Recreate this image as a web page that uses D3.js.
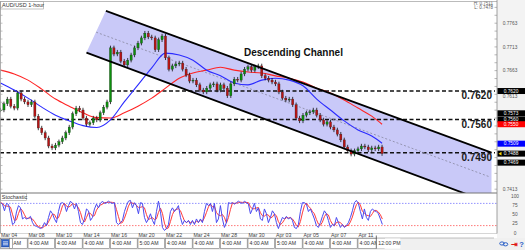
<!DOCTYPE html>
<html>
<head>
<meta charset="utf-8">
<script src="https://cdn.jsdelivr.net/npm/d3@7"></script>
<style>
  body { margin: 0; background: #fff; }
  svg { display: block; font-family: "Liberation Sans", Arial, sans-serif; }
</style>
</head>
<body>
<svg id="chart" width="525" height="250"></svg>
<script>
// 6-hour closes, AUD/USD, from Mar 04
const candleHours = 6
const closes = [
  0.7580, 0.7593, 0.7603, 0.7588, 0.7584, 0.7616, 0.7603, 0.7597, 0.7591, 0.7597,
  0.7567, 0.7542, 0.7532, 0.7521, 0.7504, 0.7500, 0.7506, 0.7513, 0.7521, 0.7532,
  0.7544, 0.7572, 0.7584, 0.7580, 0.7563, 0.7550, 0.7553, 0.7563, 0.7559, 0.7574,
  0.7586, 0.7597, 0.7711, 0.7698, 0.7702, 0.7683, 0.7675, 0.7685, 0.7696, 0.7711,
  0.7721, 0.7732, 0.7742, 0.7734, 0.7732, 0.7707, 0.7728, 0.7736, 0.7690, 0.7666,
  0.7673, 0.7677, 0.7679, 0.7666, 0.7654, 0.7641, 0.7643, 0.7633, 0.7622, 0.7618,
  0.7626, 0.7633, 0.7635, 0.7622, 0.7633, 0.7626, 0.7610, 0.7635, 0.7645, 0.7643,
  0.7656, 0.7666, 0.7671, 0.7664, 0.7671, 0.7673, 0.7652, 0.7647, 0.7643, 0.7639,
  0.7635, 0.7618, 0.7605, 0.7601, 0.7603, 0.7591, 0.7563, 0.7557, 0.7569, 0.7574,
  0.7576, 0.7580, 0.7569, 0.7559, 0.7550, 0.7555, 0.7544, 0.7538, 0.7529, 0.7517,
  0.7502, 0.7494, 0.7487, 0.7494, 0.7498, 0.7504, 0.7502, 0.7496, 0.7500, 0.7498,
  0.7502, 0.7488
]

// moving averages, one value per 24 hours (last one at the final bar)
const maHours = d3.range(0, 28).map(k => k * 24).concat([666])
const blueMA = [
  0.7637, 0.7622, 0.7605, 0.7586, 0.7569, 0.7557, 0.7547, 0.7543, 0.7559, 0.7597,
  0.7633, 0.7669, 0.7700, 0.7696, 0.7685, 0.7664, 0.7652, 0.7637, 0.7633, 0.7643,
  0.7647, 0.7643, 0.7631, 0.7603, 0.7580, 0.7557, 0.7538, 0.7525, 0.7510
]
const redMA = [
  0.7664, 0.7656, 0.7643, 0.7624, 0.7603, 0.7588, 0.7574, 0.7564, 0.7563, 0.7574,
  0.7588, 0.7605, 0.7626, 0.7647, 0.7658, 0.7664, 0.7670, 0.7664, 0.7660, 0.7658,
  0.7652, 0.7647, 0.7639, 0.7626, 0.7616, 0.7601, 0.7584, 0.7567, 0.7550
]

// stochastic %K
const stochStep = 3.49
const stochK = [
  82, 78, 60, 80, 77, 52, 23, 27, 57, 74,
  68, 38, 42, 38, 40, 45, 28, 20, 18, 15,
  12, 15, 28, 20, 42, 60, 52, 38, 28, 58,
  80, 82, 78, 58, 74, 86, 80, 65, 80, 58,
  28, 23, 38, 65, 60, 34, 42, 65, 78, 68,
  80, 86, 80, 82, 86, 82, 80, 82, 28, 23,
  28, 34, 58, 74, 86, 88, 68, 82, 74, 52,
  82, 80, 42, 28, 38, 52, 34, 23, 58, 86,
  58, 15, 7, 12, 23, 58, 68, 58, 65, 74,
  42, 23, 34, 28, 34, 23, 34, 23, 38, 28,
  38, 28, 58, 80, 74, 80, 58, 80, 28, 38,
  74, 38, 15, 28, 82, 80, 82, 78, 82, 86,
  82, 80, 86, 82, 78, 52, 65, 80, 58, 68,
  38, 34, 65, 52, 28, 42, 60, 52, 28, 12,
  28, 42, 38, 45, 38, 42, 34, 15, 12, 23,
  58, 82, 82, 78, 58, 65, 52, 38, 20, 15,
  28, 45, 60, 52, 34, 15, 23, 20, 42, 28,
  15, 23, 15, 20, 28, 42, 60, 82, 88, 80,
  58, 38, 65, 42, 34, 58, 65, 60, 58, 52,
  38, 23
]
const stochLevels = [80, 20]
const stochTicks = [100, 75, 50, 25, 0]

// channel lines as [hour, price]
const upperLine = [[184, 0.7789], [857, 0.7490]]
const lowerLine = [[150, 0.7701], [857, 0.7383]]
const midLine = [[167, 0.7744], [854, 0.7439]]

const levels = [0.7620, 0.7560, 0.7490]
// axis labels that are not hidden behind a price tag
const axisPrices = [0.7763, 0.7713, 0.7663, 0.7613, 0.7413]
const tags = [
  { v: 0.7620, fill: '#000' },
  { v: 0.7573, fill: '#000' },
  { v: 0.7560, fill: '#000' },
  { v: 0.7550, fill: '#f00' },
  { v: 0.7509, fill: '#00f' },
  { v: 0.7488, fill: '#000', arrow: true },
  { v: 0.7469, fill: '#000' }
]

const dateLabels = ['Mar 04', 'Mar 08', 'Mar 10', 'Mar 14', 'Mar 16', 'Mar 20', 'Mar 22',
                    'Mar 24', 'Mar 28', 'Mar 30', 'Apr 03', 'Apr 05', 'Apr 07', 'Apr 11']
const timeLabels = ['4:00 AM', '4:00 AM', '4:00 AM', '4:00 AM', '4:00 AM', '5:00 AM', '4:00 AM',
                    '4:00 AM', '4:00 AM', '4:00 AM', '5:00 AM', '4:00 AM', '4:00 AM', '4:00 AM']
const tickHours = 48
const lastTime = { h: 656, label: '12:00 PM' }

const W = 525
const plotR = 497, mainT = 1.5, mainB = 193, stochB = 233.5, barT = 238.5, barB = 248.5

const x = d3.scaleLinear().domain([0, 867]).range([0.5, 497.2])
const y = d3.scaleLinear().domain([0.7413, 0.7763]).range([189.2, 23.2])
const ys = d3.scaleLinear().domain([0, 100]).range([233, 196])

const svg = d3.select('#chart')

svg.append('rect').attr('x', plotR).attr('y', 0).attr('width', W - plotR).attr('height', barT)
  .attr('fill', '#f3f3f3')

const defs = svg.append('defs')
defs.append('clipPath').attr('id', 'clip-main').append('rect')
  .attr('x', 0).attr('y', mainT).attr('width', plotR).attr('height', mainB - mainT)
defs.append('clipPath').attr('id', 'clip-stoch').append('rect')
  .attr('x', 0).attr('y', mainB).attr('width', plotR).attr('height', stochB - mainB)

const main = svg.append('g').attr('clip-path', 'url(#clip-main)')

// channel fill
const poly = [upperLine[0], upperLine[1], lowerLine[1], lowerLine[0]]
main.append('polygon')
  .attr('points', poly.map(p => x(p[0]) + ',' + y(p[1])).join(' '))
  .attr('fill', '#c9c9f8')

// horizontal levels
main.selectAll('line.level').data(levels).join('line').classed('level', true)
  .attr('x1', 0).attr('x2', plotR - 2)
  .attr('y1', d => y(d)).attr('y2', d => y(d))
  .attr('stroke', '#111').attr('stroke-width', 1.4).attr('stroke-dasharray', '4,2.5')

// middle dashed line
main.append('line')
  .attr('x1', x(midLine[0][0])).attr('y1', y(midLine[0][1]))
  .attr('x2', x(midLine[1][0])).attr('y2', y(midLine[1][1]))
  .attr('stroke', '#8888a0').attr('stroke-width', 0.8).attr('stroke-dasharray', '2,2')

// moving averages
const maLine = d3.line().x(d => x(d[0])).y(d => y(d[1])).curve(d3.curveMonotoneX)
main.append('path').datum(maHours.map((h, i) => [h, redMA[i]]))
  .attr('d', maLine).attr('fill', 'none').attr('stroke', '#ff2424').attr('stroke-width', 1.1)
main.append('path').datum(maHours.map((h, i) => [h, blueMA[i]]))
  .attr('d', maLine).attr('fill', 'none').attr('stroke', '#2b2bff').attr('stroke-width', 1.1)

// candles
const candles = closes.map((c, i) => ({ h: i * candleHours, o: i ? closes[i - 1] : c, c: c }))
main.selectAll('line.wick').data(candles).join('line').classed('wick', true)
  .attr('x1', d => x(d.h)).attr('x2', d => x(d.h))
  .attr('y1', d => y(Math.max(d.o, d.c)) - 2.2)
  .attr('y2', d => y(Math.min(d.o, d.c)) + 2.2)
  .attr('stroke', '#111').attr('stroke-width', 0.8)
main.selectAll('rect.body').data(candles).join('rect').classed('body', true)
  .attr('x', d => x(d.h) - 1.1).attr('width', 2.2)
  .attr('y', d => y(Math.max(d.o, d.c)))
  .attr('height', d => Math.max(0.9, Math.abs(y(d.o) - y(d.c))))
  .attr('fill', d => d.c >= d.o ? '#0c8f0c' : '#b81414')
  .attr('stroke', '#222').attr('stroke-width', 0.3)

// channel borders
;[upperLine, lowerLine].forEach(l => {
  main.append('line')
    .attr('x1', x(l[0][0])).attr('y1', y(l[0][1]))
    .attr('x2', x(l[1][0])).attr('y2', y(l[1][1]))
    .attr('stroke', '#000').attr('stroke-width', 1.8)
})

// level labels
main.selectAll('text.lvl').data(levels).join('text').classed('lvl', true)
  .attr('x', 492).attr('y', d => y(d) + 8.3)
  .attr('text-anchor', 'end').attr('font-size', 10).attr('font-weight', 'bold')
  .attr('fill', '#1a1a1a').text(d => d.toFixed(4))

main.append('text').attr('x', 244).attr('y', 55.5)
  .attr('font-size', 10).attr('font-weight', 'bold').attr('fill', '#111')
  .text('Descending Channel')

// H / L readout
svg.append('text').attr('x', 493).attr('y', 5).attr('text-anchor', 'end')
  .attr('font-size', 4.5).attr('fill', '#555').text('H: 0.7511')
svg.append('text').attr('x', 493).attr('y', 9.3).attr('text-anchor', 'end')
  .attr('font-size', 4.5).attr('fill', '#555').text('L: 0.7478')

// title box
svg.append('rect').attr('x', 0.5).attr('y', 1.5).attr('width', 43).attr('height', 7.5)
  .attr('fill', '#fff').attr('stroke', '#999').attr('stroke-width', 0.6)
svg.append('text').attr('x', 2).attr('y', 7.3).attr('font-size', 5.5).attr('fill', '#333')
  .text('AUD/USD 1-hour')

// stochastic panel
const stoch = svg.append('g').attr('clip-path', 'url(#clip-stoch)')
stoch.selectAll('line.slevel').data(stochLevels).join('line').classed('slevel', true)
  .attr('x1', 0).attr('x2', plotR)
  .attr('y1', d => ys(d)).attr('y2', d => ys(d))
  .attr('stroke', d => d > 50 ? '#7777ff' : '#ff5555')
  .attr('stroke-width', 0.8).attr('stroke-dasharray', '1.5,1.5')

const stochD = stochK.map((v, i) => d3.mean(stochK.slice(Math.max(0, i - 2), i + 1)))
const sLine = d3.line().x((d, i) => x(i * stochStep)).y(d => ys(d))
stoch.append('path').datum(stochD).attr('d', sLine)
  .attr('fill', 'none').attr('stroke', '#ff3a3a').attr('stroke-width', 1)
stoch.append('path').datum(stochK).attr('d', sLine)
  .attr('fill', 'none').attr('stroke', '#4a4af0').attr('stroke-width', 1)

svg.append('rect').attr('x', 0.5).attr('y', mainB + 0.5).attr('width', 26).attr('height', 7)
  .attr('fill', '#fff').attr('stroke', '#999').attr('stroke-width', 0.6)
svg.append('text').attr('x', 1.8).attr('y', mainB + 6).attr('font-size', 5.5).attr('fill', '#333')
  .text('Stochastic')

// frame
svg.append('line').attr('x1', 0).attr('x2', plotR).attr('y1', mainT).attr('y2', mainT)
  .attr('stroke', '#aaa').attr('stroke-width', 0.8)
svg.append('line').attr('x1', 0).attr('x2', plotR).attr('y1', mainB).attr('y2', mainB)
  .attr('stroke', '#777').attr('stroke-width', 1.2)
svg.append('line').attr('x1', 0).attr('x2', plotR).attr('y1', stochB).attr('y2', stochB)
  .attr('stroke', '#bbb').attr('stroke-width', 0.6)
svg.append('line').attr('x1', 0.5).attr('x2', 0.5).attr('y1', mainT).attr('y2', stochB)
  .attr('stroke', '#999').attr('stroke-width', 0.8)
svg.append('line').attr('x1', plotR).attr('x2', plotR).attr('y1', 0).attr('y2', stochB)
  .attr('stroke', '#888').attr('stroke-width', 0.8)

// price ticks on both edges
const priceTicks = d3.range(0, 24).map(i => 0.7413 + i * 0.0050 / 3).filter(p => y(p) > mainT + 2)
svg.selectAll('line.ptick').data(priceTicks).join('line').classed('ptick', true)
  .attr('x1', plotR - 2.5).attr('x2', plotR).attr('y1', d => y(d)).attr('y2', d => y(d))
  .attr('stroke', '#888').attr('stroke-width', 0.6)
svg.selectAll('line.ltick').data(priceTicks).join('line').classed('ltick', true)
  .attr('x1', 0.5).attr('x2', 2.5).attr('y1', d => y(d)).attr('y2', d => y(d))
  .attr('stroke', '#999').attr('stroke-width', 0.6)

// price axis labels and tags (0.7613 peeks out from under the 0.7620 tag)
svg.selectAll('text.plab').data(axisPrices).join('text').classed('plab', true)
  .attr('x', 510).attr('y', d => y(d) + (d === 0.7613 ? 3.4 : 1.6)).attr('text-anchor', 'middle')
  .attr('font-size', 4.8).attr('fill', '#555').text(d => d.toFixed(4))

const tagG = svg.selectAll('g.tag').data(tags).join('g').classed('tag', true)
  .attr('transform', d => 'translate(0,' + y(d.v) + ')')
tagG.append('rect').attr('x', plotR + 0.5).attr('y', -3).attr('width', W - plotR).attr('height', 6)
  .attr('fill', d => d.fill)
tagG.append('text').attr('x', 511).attr('y', 1.7).attr('text-anchor', 'middle')
  .attr('font-size', 4.8).attr('fill', '#fff').text(d => d.v.toFixed(4))
tagG.filter(d => d.arrow).append('path').attr('d', 'M498.5,0 L501.5,-1.8 L501.5,1.8 Z')
  .attr('fill', '#ffd800')

svg.selectAll('text.slab').data(stochTicks).join('text').classed('slab', true)
  .attr('x', 515).attr('y', d => ys(d) + 1.7).attr('text-anchor', 'middle')
  .attr('font-size', 4.8).attr('fill', '#555').text(d => d)

// date axis
const dateHours = dateLabels.map((d, k) => k * tickHours)
svg.selectAll('text.date').data(dateLabels).join('text').classed('date', true)
  .attr('x', (d, k) => x(dateHours[k]) + 0.5).attr('y', 237.4)
  .attr('font-size', 5.2).attr('fill', '#444').text(d => d)

// bottom time bar
svg.append('rect').attr('x', 0).attr('y', barT - 0.5).attr('width', W).attr('height', 250 - barT + 0.5)
  .attr('fill', '#f0f0f0')
svg.append('line').attr('x1', 0).attr('x2', plotR - 3).attr('y1', barT - 0.5).attr('y2', barT - 0.5)
  .attr('stroke', '#999').attr('stroke-width', 0.6)
const boxes = svg.selectAll('g.tbox').data(timeLabels).join('g').classed('tbox', true)
  .attr('transform', (d, k) => 'translate(' + x(dateHours[k]) + ',0)')
boxes.append('rect').attr('x', 0).attr('y', barT).attr('width', (d, k) => x(tickHours) - x(0) - 0.8)
  .attr('height', barB - barT).attr('fill', '#fff').attr('stroke', '#777').attr('stroke-width', 0.6)
boxes.append('text').attr('x', 1.6).attr('y', 245.4).attr('font-size', 5.2).attr('fill', '#333')
  .text(d => d)
svg.append('rect').attr('x', x(lastTime.h)).attr('y', barT).attr('width', 24).attr('height', barB - barT)
  .attr('fill', '#fff')
svg.append('line').attr('x1', x(lastTime.h)).attr('x2', x(lastTime.h)).attr('y1', barT - 3).attr('y2', barB)
  .attr('stroke', '#333').attr('stroke-width', 0.7)
svg.append('text').attr('x', x(lastTime.h) + 2).attr('y', 245.4).attr('font-size', 5.2)
  .attr('fill', '#333').text(lastTime.label)

// toolbar icons
svg.append('rect').attr('x', 1.5).attr('y', 239.5).attr('width', 8).attr('height', 7.5)
  .attr('fill', '#2d62c8').attr('stroke', '#1a3f8a').attr('stroke-width', 0.5)
;[241.8, 243.3, 244.8].forEach(v => {
  svg.append('line').attr('x1', 3).attr('x2', 8).attr('y1', v).attr('y2', v)
    .attr('stroke', '#fff').attr('stroke-width', 0.7)
})
svg.append('rect').attr('x', 9.5).attr('y', barT).attr('width', 3).attr('height', barB - barT)
  .attr('fill', '#fff').attr('stroke', '#777').attr('stroke-width', 0.6)
svg.append('ellipse').attr('cx', 502).attr('cy', 243.5).attr('rx', 2.3).attr('ry', 1.6)
  .attr('fill', 'none').attr('stroke', '#2d62c8').attr('stroke-width', 1)
svg.append('ellipse').attr('cx', 505.5).attr('cy', 244.3).attr('rx', 2.3).attr('ry', 1.6)
  .attr('fill', 'none').attr('stroke', '#2d62c8').attr('stroke-width', 1)
svg.append('text').attr('x', 514).attr('y', 246.5).attr('text-anchor', 'middle')
  .attr('font-size', 8).attr('font-weight', 'bold').attr('fill', '#e01818').text('⇥')
svg.append('text').attr('x', 521.5).attr('y', 246.8).attr('text-anchor', 'middle')
  .attr('font-size', 7.5).attr('font-weight', 'bold').attr('fill', '#2d62c8').text('?')
</script>
</body>
</html>
